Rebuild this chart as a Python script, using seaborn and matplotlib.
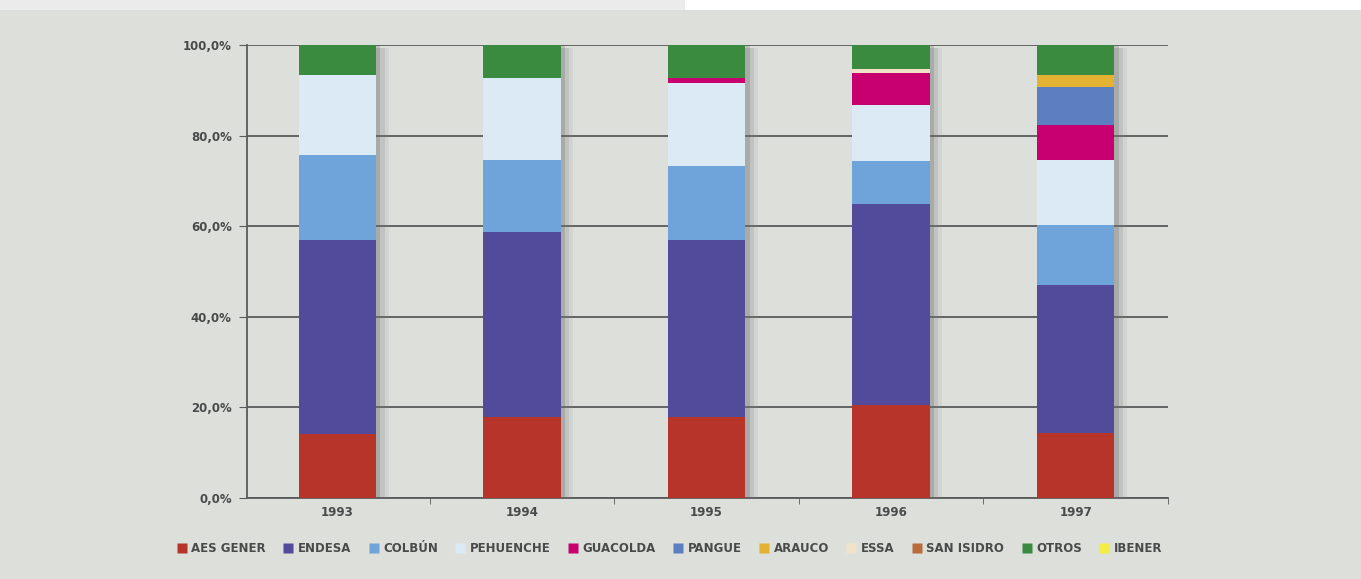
import numpy as np
import pandas as pd
import matplotlib
matplotlib.use("Agg")
import matplotlib.pyplot as plt
import matplotlib.patheffects as pe
from matplotlib.patches import Rectangle
from matplotlib.lines import Line2D
import seaborn as sns

# Datos (participación %)
years = ["1993", "1994", "1995", "1996", "1997"]
aes_gener = [14.2, 17.9, 17.9, 20.5, 14.3]
endesa = [42.8, 40.8, 39.1, 44.4, 32.7]
colbun = [18.7, 16.0, 16.3, 9.5, 13.3]
pehuenche = [17.7, 18.0, 18.3, 12.4, 14.3]
guacolda = [0.0, 0.0, 1.1, 7.0, 7.7]
pangue = [0.0, 0.0, 0.0, 0.0, 8.4]
arauco = [0.0, 0.0, 0.0, 0.0, 2.7]
essa = [0.0, 0.0, 0.0, 0.8, 0.0]
san_isidro = [0.0, 0.0, 0.0, 0.0, 0.0]
otros = [6.6, 7.3, 7.3, 5.4, 6.6]
ibener = [0.0, 0.0, 0.0, 0.0, 0.0]

series_names = ["AES GENER", "ENDESA", "COLBÚN", "PEHUENCHE", "GUACOLDA", "PANGUE",
                "ARAUCO", "ESSA", "SAN ISIDRO", "OTROS", "IBENER"]
series_vals = [aes_gener, endesa, colbun, pehuenche, guacolda, pangue,
               arauco, essa, san_isidro, otros, ibener]
colors = ["#b7342b", "#524a9a", "#6fa4da", "#dceaf6", "#c8006f", "#5b7fc0",
          "#e3b232", "#f1e3c9", "#b96b3b", "#3a8a40", "#f3ee45"]

BG = "#dcdfda"
TXT = "#4a4a4a"
FONT = ["Liberation Sans Narrow", "DejaVu Sans"]

df = pd.DataFrame({"year": years})
for name, vals in zip(series_names, series_vals):
    df[name] = vals
# acumulados para apilar (se dibuja del total hacia abajo)
cum = df[series_names].cumsum(axis=1)

fig = plt.figure(figsize=(13.61, 5.79), dpi=100, facecolor=BG)
# franja superior clara
fig.patches.append(Rectangle((0, 0.982), 0.503, 0.018, transform=fig.transFigure,
                             facecolor="#ebebeb", edgecolor="none", zorder=0))
fig.patches.append(Rectangle((0.503, 0.982), 0.497, 0.018, transform=fig.transFigure,
                             facecolor="white", edgecolor="none", zorder=0))

ax = fig.add_axes([247 / 1361, 1 - 498 / 579, (1168 - 247) / 1361, (498 - 45) / 579])
ax.set_facecolor("none")

for i in range(len(series_names) - 1, -1, -1):
    name = series_names[i]
    sns.barplot(x=df["year"], y=cum[name], color=colors[i], width=0.42,
                saturation=1, ax=ax, zorder=3, linewidth=0)
    if i == len(series_names) - 1:
        # sombra suave a la derecha de cada barra
        for p in ax.patches:
            p.set_path_effects([
                pe.SimplePatchShadow(offset=(9, -2), shadow_rgbFace="#888888", alpha=0.12),
                pe.SimplePatchShadow(offset=(6, -2), shadow_rgbFace="#777777", alpha=0.18),
                pe.SimplePatchShadow(offset=(3, -1), shadow_rgbFace="#666666", alpha=0.25),
                pe.Normal()])

ax.set_ylim(0, 100)
ax.set_xlim(-0.49, 4.5)
ax.set_yticks([0, 20, 40, 60, 80, 100])
ax.set_yticklabels([f"{v:.1f}%".replace(".", ",") for v in [0, 20, 40, 60, 80, 100]])
ax.yaxis.grid(True, color="#5a5a5a", linewidth=1.3, zorder=1)
ax.set_axisbelow(True)
ax.set_xlabel("")
ax.set_ylabel("")

for s in ["top", "right"]:
    ax.spines[s].set_visible(False)
ax.spines["left"].set_color("#5a5a5a")
ax.spines["left"].set_linewidth(1.3)
ax.spines["bottom"].set_color("#5a5a5a")
ax.spines["bottom"].set_linewidth(1.3)

ax.tick_params(axis="y", length=6, color="#5a5a5a", labelsize=8.5, labelcolor=TXT, pad=5)
ax.tick_params(axis="x", length=0, labelsize=8.5, labelcolor=TXT, pad=6)
ax.set_xticks([0.5, 1.5, 2.5, 3.5, 4.5], minor=True)
ax.tick_params(axis="x", which="minor", length=4, color="#5a5a5a")
for lab in ax.get_yticklabels() + ax.get_xticklabels():
    lab.set_fontweight("bold")
    lab.set_family(FONT)

handles = [Line2D([], [], marker="s", linestyle="none", markersize=7,
                  markerfacecolor=c, markeredgecolor="none") for c in colors]
leg = fig.legend(handles, series_names, loc="center", bbox_to_anchor=(0.492, 1 - 549 / 579),
                 ncol=11, frameon=False, handlelength=0.8, handletextpad=0.4,
                 columnspacing=1.5,
                 prop={"family": FONT, "weight": "bold", "size": 8.5})
for t in leg.get_texts():
    t.set_color(TXT)

fig.savefig("out.png", dpi=100, facecolor=BG)
